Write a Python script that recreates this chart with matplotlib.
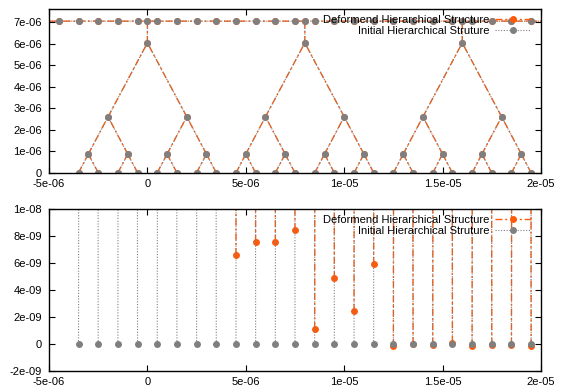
import numpy as np
import matplotlib
matplotlib.use('Agg')
import matplotlib.pyplot as plt
from matplotlib.ticker import MultipleLocator, FuncFormatter
from matplotlib.lines import Line2D

plt.rcParams['font.family'] = ['Liberation Sans', 'DejaVu Sans']

# node x positions (m) for each level of the tree
leaf_x = [-3.5e-6, -2.5e-6, -1.5e-6, -0.5e-6, 0.5e-6, 1.5e-6, 2.5e-6, 3.5e-6,
          4.5e-6, 5.5e-6, 6.5e-6, 7.5e-6, 8.5e-6, 9.5e-6, 10.5e-6, 11.5e-6,
          12.5e-6, 13.5e-6, 14.5e-6, 15.5e-6, 16.5e-6, 17.5e-6, 18.5e-6, 19.5e-6]
lvl1_x = [-3e-6, -1e-6, 1e-6, 3e-6, 5e-6, 7e-6, 9e-6, 11e-6, 13e-6, 15e-6, 17e-6, 19e-6]
lvl2_x = [-2e-6, 2e-6, 6e-6, 10e-6, 14e-6, 18e-6]
lvl3_x = [0.0, 8e-6, 16e-6]
top_x = [-5e-6, -4.5e-6, -3.5e-6, -2.5e-6, -1.5e-6, -0.5e-6, 0.0, 0.5e-6, 1.5e-6,
         2.5e-6, 3.5e-6, 4.5e-6, 5.5e-6, 6.5e-6, 7.5e-6, 8e-6, 8.5e-6, 9.5e-6,
         10.5e-6, 11.5e-6, 12.5e-6, 13.5e-6, 14.5e-6, 15.5e-6, 16e-6, 16.5e-6,
         17.5e-6, 18.5e-6, 19.5e-6, 20e-6]
top_pts_x = top_x[1:-1]

# node heights (m)
h1 = 0.88e-6
h2 = 2.61e-6
h3 = 6.04e-6
h_top = 7.05e-6

# leaf heights
leaf_y_init = [0.0] * 24
leaf_y_def = [1.4e-8, 1.4e-8, 1.4e-8, 1.4e-8, 1.4e-8, 1.4e-8, 1.4e-8, 1.4e-8,
              6.6e-9, 7.58e-9, 7.58e-9, 8.44e-9, 1.11e-9, 4.86e-9, 2.47e-9, 5.93e-9,
              -0.15e-9, 0.0, -0.05e-9, 0.08e-9, -0.15e-9, -0.05e-9, -0.05e-9, -0.12e-9]

orange = '#ff5a0a'
grey = '#7f7f7f'


def structure(leaf_y):
    xs, ys = [], []
    for i, lx in enumerate(leaf_x):
        xs += [lx, lvl1_x[i // 2], np.nan]
        ys += [leaf_y[i], h1, np.nan]
    for j, x1 in enumerate(lvl1_x):
        xs += [x1, lvl2_x[j // 2], np.nan]
        ys += [h1, h2, np.nan]
    for k, x2 in enumerate(lvl2_x):
        xs += [x2, lvl3_x[k // 2], np.nan]
        ys += [h2, h3, np.nan]
    for x3 in lvl3_x:
        xs += [x3, x3, np.nan]
        ys += [h3, h_top, np.nan]
    xs += top_x
    ys += [h_top] * len(top_x)
    px = leaf_x + lvl1_x + lvl2_x + lvl3_x + top_pts_x
    py = list(leaf_y) + [h1] * len(lvl1_x) + [h2] * len(lvl2_x) + [h3] * len(lvl3_x) + [h_top] * len(top_pts_x)
    return xs, ys, px, py


fig = plt.figure(figsize=(5.62, 3.92), dpi=100)
ax1 = fig.add_axes([0.0872, 0.5587, 0.8754, 0.4176])
ax2 = fig.add_axes([0.0872, 0.0536, 0.8754, 0.4133])

dash = (0, (5, 2, 1.5, 2))
fmt = FuncFormatter(lambda v, p: '%g' % v)

for ax in (ax1, ax2):
    xs, ys, px, py = structure(leaf_y_def)
    ax.plot(xs, ys, color=orange, lw=1, ls=dash)
    ax.plot(px, py, 'o', color=orange, ms=5, mew=0)
    xs, ys, px, py = structure(leaf_y_init)
    ax.plot(xs, ys, color=grey, lw=0.8, ls=(0, (1, 1.5)))
    ax.plot(px, py, 'o', color=grey, ms=5, mew=0)

    ax.set_xlim(-5e-6, 2e-5)
    ax.xaxis.set_major_locator(MultipleLocator(5e-6))
    ax.xaxis.set_major_formatter(fmt)
    ax.yaxis.set_major_formatter(fmt)
    ax.tick_params(direction='in', top=True, right=True, length=4, labelsize=8)
    ax.tick_params(axis='x', pad=4)
    ax.tick_params(axis='y', pad=5)
    for s in ax.spines.values():
        s.set_linewidth(1)

    h_def = Line2D([], [], color=orange, lw=1, ls=dash, marker='o', ms=5, mew=0)
    h_init = Line2D([], [], color=grey, lw=0.8, ls=(0, (1, 1.5)), marker='o', ms=5, mew=0)
    ax.legend([h_def, h_init], ['Deformend Hierarchical Structure', 'Initial Hierarchical Struture'],
              loc='upper right', bbox_to_anchor=(0.99, 1.0), frameon=False, markerfirst=False,
              fontsize=8, handlelength=3.2, handletextpad=0.5, labelspacing=0.1,
              borderaxespad=0.3, borderpad=0.2)

ax1.set_ylim(0, 7.6e-6)
ax1.yaxis.set_major_locator(MultipleLocator(1e-6))
ax2.set_ylim(-2e-9, 1e-8)
ax2.yaxis.set_major_locator(MultipleLocator(2e-9))

fig.savefig('out.png', dpi=100)
